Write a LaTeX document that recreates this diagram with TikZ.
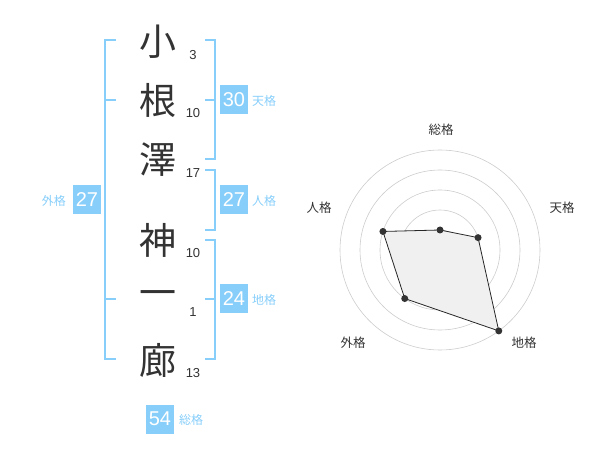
\documentclass[tikz,border=0pt]{standalone}
\usepackage{fontspec}
\setmainfont{Liberation Sans}
\newfontfamily\jpfont{Noto Sans CJK JP}
\definecolor{kakublue}{HTML}{87CEFA}
\definecolor{inkgray}{HTML}{333333}
\begin{document}
\begin{tikzpicture}[
    x=1pt, y=-1pt,
    kanji/.style={font=\jpfont\fontsize{37}{37}\selectfont, text=inkgray, inner sep=0pt},
    strokes/.style={font=\fontsize{13}{13}\selectfont, text=inkgray, inner sep=0pt},
    bracket/.style={draw=kakublue, line width=2.5pt},
    score/.style={rectangle, fill=kakublue, text=white, minimum width=28pt, minimum height=29pt, inner sep=0pt, font=\fontsize{20}{20}\selectfont},
    kaku/.style={text=kakublue, font=\jpfont\fontsize{12}{12}\selectfont, inner sep=0pt},
    ring/.style={draw=black!20, line width=0.6pt},
    axis/.style={text=inkgray, font=\jpfont\fontsize{12.5}{12.5}\selectfont, inner sep=0pt},
    dot/.style={circle, fill=inkgray, minimum size=7pt, inner sep=0pt}
]
\useasboundingbox (0,0) rectangle (600,470);

% Name characters with stroke counts
\foreach \i/\ch/\n/\y in {1/小/3/42, 2/根/10/100, 3/澤/17/160, 4/神/10/240, 5/一/1/299, 6/廊/13/360} {
    \node[kanji] (c\i) at (158,\y) {\ch};
    \node[strokes] (n\i) at (193,\y+13) {\n};
}

% Outer bracket (gaikaku)
\draw[bracket] (116,40) -- (105,40) -- (105,359) -- (116,359);
\draw[bracket] (105,100) -- (116,100);
\draw[bracket] (105,299) -- (116,299);

% Right brackets
\draw[bracket] (205,40) -- (215,40) -- (215,159) -- (205,159);
\draw[bracket] (205,100) -- (215,100);
\draw[bracket] (205,170) -- (215,170) -- (215,230) -- (205,230);
\draw[bracket] (205,240) -- (215,240) -- (215,359) -- (205,359);
\draw[bracket] (205,299) -- (215,299);

% Scores
\node[score] (ten) at (234,100) {30};
\node[kaku, anchor=west] (tenlbl) at (252,101) {天格};
\node[score] (jin) at (234,200) {27};
\node[kaku, anchor=west] (jinlbl) at (252,201) {人格};
\node[score] (chi) at (234,299) {24};
\node[kaku, anchor=west] (chilbl) at (252,300) {地格};
\node[score] (gai) at (87,200) {27};
\node[kaku, anchor=east] (gailbl) at (66,201) {外格};
\node[score] (sou) at (160,419) {54};
\node[kaku, anchor=west] (soulbl) at (179,420) {総格};

% Radar labels
\node[axis] (soulabel) at (441,130) {総格};
\node[axis] (tenlabel) at (562,208) {天格};
\node[axis] (chilabel) at (524,343) {地格};
\node[axis] (gailabel) at (353,343) {外格};
\node[axis] (jinlabel) at (319,208) {人格};

% Radar chart
\begin{scope}[shift={(440,250)}, y=1pt]
    \foreach \r in {20,40,60,80,100}
        \draw[ring] (0,0) circle (\r);
    \fill[black!20] (0,0) circle (3);
    \foreach \a/\r/\name in {90/20/p1, 18/40/p2, -54/100/p3, -126/60/p4, 162/60/p5}
        \coordinate (\name) at (\a:\r);
    \draw[fill=black!6, draw=black!85, line width=0.8pt] (p1) -- (p2) -- (p3) -- (p4) -- (p5) -- cycle;
    \foreach \name in {p1,p2,p3,p4,p5}
        \node[dot] (\name dot) at (\name) {};
\end{scope}

\end{tikzpicture}
\end{document}
